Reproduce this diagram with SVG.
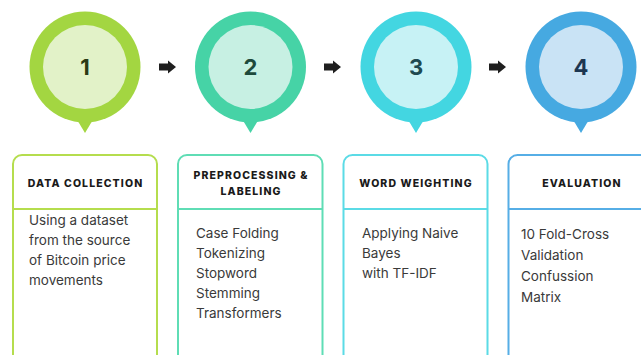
<svg xmlns="http://www.w3.org/2000/svg" width="641" height="355" viewBox="0 0 641 355">
<style>
.num{font-family:Inter,"Liberation Sans",sans-serif;font-weight:700;font-size:22px;text-anchor:middle}
.hd{font-family:Inter,"Liberation Sans",sans-serif;font-weight:800;font-size:10.5px;letter-spacing:1.1px;text-anchor:middle;fill:#1a1a1a}
.bd{font-family:Inter,"Liberation Sans",sans-serif;font-size:13.5px;fill:#3a3a3a}
.box{fill:#ffffff;stroke-width:2}
.arr{fill:#1f1f1f}
</style>
<defs>
<path id="arrow" d="M0,-3.5 H9 V-6.5 L17,0 L9,6.5 V3.5 H0 Z"/>
</defs>
<rect width="641" height="355" fill="#ffffff"/>
<g id="connectors">
<use href="#arrow" class="arr" x="159" y="67"/>
<use href="#arrow" class="arr" x="324" y="67"/>
<use href="#arrow" class="arr" x="489" y="67"/>
</g>
<g id="step1">
<path d="M76,118 L85,133 L94,118 Z" fill="#A3D641"/>
<circle cx="85" cy="67" r="55.5" fill="#A3D641"/>
<circle cx="85" cy="67" r="42" fill="#E2F2C8"/>
<text class="num" x="85" y="75" fill="#2B3A14">1</text>
<rect class="box" x="13" y="155" width="144" height="210" rx="9" stroke="#B5DD4E"/>
<line x1="13" y1="209" x2="157" y2="209" stroke="#B5DD4E" stroke-width="2"/>
<text class="hd" x="85.5" y="187">DATA COLLECTION</text>
<text class="bd" x="29" y="225">Using a dataset</text>
<text class="bd" x="29" y="245">from the source</text>
<text class="bd" x="29" y="265">of Bitcoin price</text>
<text class="bd" x="29" y="285">movements</text>
</g>
<g id="step2">
<path d="M241.5,118 L250.5,133 L259.5,118 Z" fill="#46D3A6"/>
<circle cx="250.5" cy="67" r="55.5" fill="#46D3A6"/>
<circle cx="250.5" cy="67" r="42" fill="#C7F0E3"/>
<text class="num" x="250.5" y="75" fill="#1E4A3C">2</text>
<rect class="box" x="178" y="155" width="144.5" height="210" rx="9" stroke="#5FDDB5"/>
<line x1="178" y1="209" x2="322.5" y2="209" stroke="#5FDDB5" stroke-width="2"/>
<text class="hd" x="251" y="179">PREPROCESSING &amp;</text>
<text class="hd" x="251" y="195">LABELING</text>
<text class="bd" x="196" y="238">Case Folding</text>
<text class="bd" x="196" y="258">Tokenizing</text>
<text class="bd" x="196" y="278">Stopword</text>
<text class="bd" x="196" y="298">Stemming</text>
<text class="bd" x="196" y="318">Transformers</text>
</g>
<g id="step3">
<path d="M407,118 L416,133 L425,118 Z" fill="#43D6E1"/>
<circle cx="416" cy="67" r="55.5" fill="#43D6E1"/>
<circle cx="416" cy="67" r="42" fill="#C7F2F5"/>
<text class="num" x="416" y="75" fill="#1E4A50">3</text>
<rect class="box" x="343.5" y="155" width="144" height="210" rx="9" stroke="#5BDBE6"/>
<line x1="343.5" y1="209" x2="487.5" y2="209" stroke="#5BDBE6" stroke-width="2"/>
<text class="hd" x="416" y="187">WORD WEIGHTING</text>
<text class="bd" x="362" y="238">Applying Naive</text>
<text class="bd" x="362" y="258">Bayes</text>
<text class="bd" x="362" y="278">with TF-IDF</text>
</g>
<g id="step4">
<path d="M572,118 L581,133 L590,118 Z" fill="#46A9E1"/>
<circle cx="581" cy="67" r="55.5" fill="#46A9E1"/>
<circle cx="581" cy="67" r="42" fill="#C9E3F5"/>
<text class="num" x="581" y="75" fill="#1C3651">4</text>
<rect class="box" x="508.5" y="155" width="144" height="210" rx="9" stroke="#56AEE6"/>
<line x1="508.5" y1="209" x2="652.5" y2="209" stroke="#56AEE6" stroke-width="2"/>
<text class="hd" x="582" y="187">EVALUATION</text>
<text class="bd" x="521" y="239">10 Fold-Cross</text>
<text class="bd" x="521" y="260">Validation</text>
<text class="bd" x="521" y="281">Confussion</text>
<text class="bd" x="521" y="302">Matrix</text>
</g>
</svg>
